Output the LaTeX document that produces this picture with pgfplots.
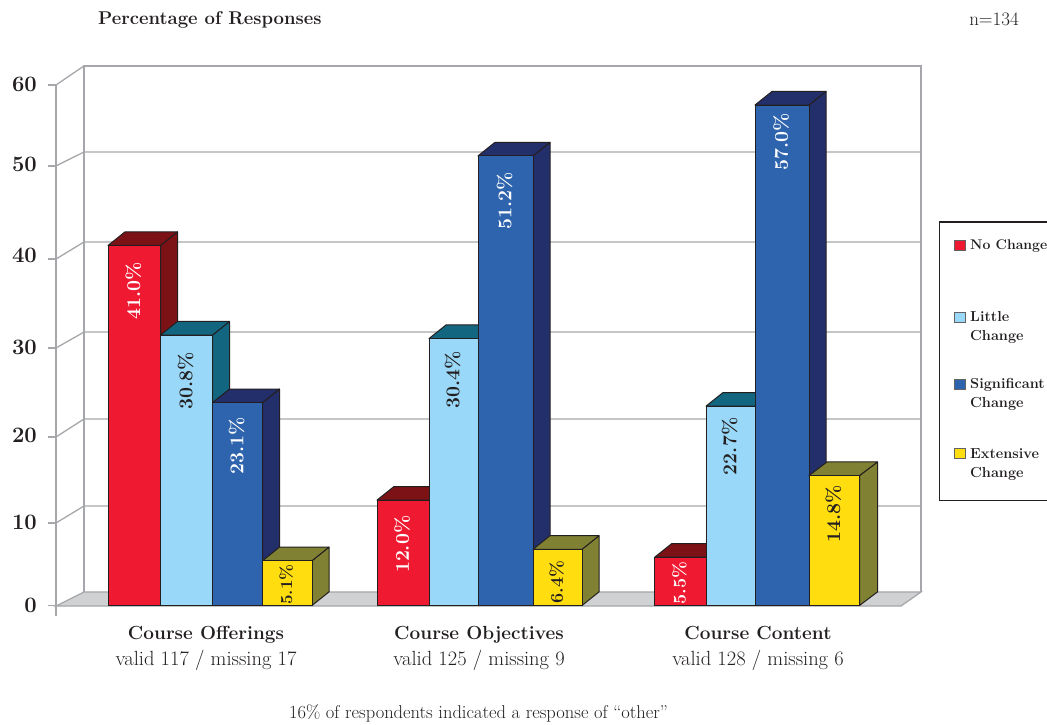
\documentclass[border=0pt]{standalone}
\usepackage{fontspec}
\usepackage{pgfplots}
\pgfplotsset{compat=1.18}

\definecolor{ink}{HTML}{231F20}
\definecolor{wall}{HTML}{A5A7AA}
\definecolor{floorgray}{HTML}{CFD1D3}
\definecolor{redF}{HTML}{EF1A32}
\definecolor{redS}{HTML}{7C1216}
\definecolor{skyF}{HTML}{99D8F8}
\definecolor{skyS}{HTML}{136680}
\definecolor{blueF}{HTML}{2E63AD}
\definecolor{blueS}{HTML}{232F6B}
\definecolor{yelF}{HTML}{FFDD0F}
\definecolor{yelS}{HTML}{808132}

\newcommand{\fs}[1]{\fontsize{#1}{#1}\selectfont}
% fixed height and depth for the first line of a category label
\newcommand{\catstrut}{\rule[-6pt]{0pt}{20pt}}

% One bar: left, right, value, front colour, dark colour, label colour, label drop (pt), depth in x, label size
\newcommand{\solidbar}[9]{%
  \pgfmathsetmacro{\xc}{(#1+#2)/2}%
  \pgfmathsetmacro{\xw}{#2-#1}%
  \pgfmathsetmacro{\xd}{#2+#8}%
  \pgfmathsetmacro{\xe}{#1+#8}%
  \pgfmathsetmacro{\yt}{#3+1.55}%
  \edef\faces{%
    \noexpand\addplot[fill=#5,draw=ink,line width=1pt,line join=round] coordinates {(#2,0) (\xd,1.55) (\xd,\yt) (#2,#3)} --cycle;%
    \noexpand\addplot[fill=#5,draw=ink,line width=1pt,line join=round] coordinates {(#1,#3) (\xe,\yt) (\xd,\yt) (#2,#3)} --cycle;%
    \noexpand\addplot[ybar,bar width=\xw,bar shift=0pt,fill=#4,draw=ink,line width=1pt,
      nodes near coords={#3\noexpand\%},
      nodes near coords style={font=\noexpand\bfseries\noexpand\fs{#9},text=#6,yshift=-#7pt,xshift=-1pt,rotate=90,anchor=east,inner sep=0pt}]
      coordinates {(\xc,#3)};%
  }%
  \faces
}

\begin{document}
\begin{tikzpicture}[x=1pt,y=1pt]
\useasboundingbox (0,0) rectangle (1047,725);
\begin{axis}[
  at={(56pt,109pt)},anchor=south west,
  scale only axis,width=865pt,height=531pt,
  xmin=56,xmax=921,ymin=-1.196,ymax=59.28,
  clip=false,
  axis x line*=bottom,axis y line*=left,
  x axis line style={draw=none},
  y axis line style={-,draw=wall,line width=1.3pt},
  ytick={59.28,50.06,39.46,29.33,19.19,9.40,0},
  yticklabels={\raisebox{1pt}{60},\raisebox{4pt}{50},\raisebox{7pt}{40},\raisebox{1pt}{30},\raisebox{3pt}{20},\raisebox{2pt}{10},\raisebox{1pt}{0}},
  ytick style={draw=wall,line width=1.3pt},
  major tick length=8pt,
  tick align=outside,
  yticklabel style={font=\bfseries\fs{22},text=ink,inner sep=0pt,xshift=-11pt},
  xtick={206,479,758},
  xticklabels={{\catstrut\bfseries\fs{19}Course Offerings\\[4pt]\mdseries\fs{20.5}valid 117 / missing 17},
               {\catstrut\bfseries\fs{19}Course Objectives\\[4pt]\mdseries\fs{20.5}valid 125 / missing 9},
               {\catstrut\bfseries\fs{19}Course Content\\[4pt]\mdseries\fs{20.5}valid 128 / missing 6}},
  xtick style={draw=none},
  xticklabel style={align=center,text=ink,yshift=2pt},
  no markers,
]
% floor and back wall
\addplot[fill=floorgray,draw=wall,line width=1.3pt] coordinates {(56,-0.06) (84,1.54) (921,1.54) (901,-0.06)} --cycle;
\addplot[wall,line width=1.3pt] coordinates {(84,1.54) (84,61.45) (921,61.45) (921,1.54)};
% wall grid lines with their slanted returns to the front ticks
\addplot[wall,line width=1.3pt] coordinates {(56,59.28) (84,61.45)};
\addplot[wall,line width=1.3pt] coordinates {(56,50.06) (84,51.65) (921,51.65)};
\addplot[wall,line width=1.3pt] coordinates {(56,39.46) (84,41.40) (921,41.40)};
\addplot[wall,line width=1.3pt] coordinates {(56,29.33) (84,31.14) (921,31.14)};
\addplot[wall,line width=1.3pt] coordinates {(56,19.19) (84,21.24) (921,21.24)};
\addplot[wall,line width=1.3pt] coordinates {(56,9.40) (84,11.33) (921,11.33)};
% Course Offerings
\solidbar{108}{160.5}{41.0}{redF}{redS}{white}{16}{17}{19.5}
\solidbar{160.5}{212.5}{30.8}{skyF}{skyS}{ink}{17}{17}{19.5}
\solidbar{212.5}{262.5}{23.1}{blueF}{blueS}{white}{14}{17}{19.5}
\solidbar{262.5}{312}{5.1}{yelF}{yelS}{ink}{3}{17}{17}
% Course Objectives
\solidbar{377}{429}{12.0}{redF}{redS}{white}{15}{17}{19.5}
\solidbar{429}{478}{30.4}{skyF}{skyS}{ink}{12}{17}{19.5}
\solidbar{478}{533}{51.2}{blueF}{blueS}{white}{16}{17}{19.5}
\solidbar{533}{582}{6.4}{yelF}{yelS}{ink}{11}{17}{18}
% Course Content
\solidbar{654.7}{706}{5.5}{redF}{redS}{white}{4}{17}{18}
\solidbar{706}{755}{22.7}{skyF}{skyS}{ink}{11}{17}{19.5}
\solidbar{755}{809}{57.0}{blueF}{blueS}{white}{8}{17}{19.5}
\solidbar{809}{859.5}{14.8}{yelF}{yelS}{ink}{9}{18}{19.5}
\end{axis}

% headings
\node[anchor=west,inner sep=0pt,text=ink,font=\bfseries\fs{18.5}] at (98,705) {Percentage of Responses};
\node[anchor=east,inner sep=0pt,text=ink,font=\fs{19}] at (1019,706) {n=134};
\node[anchor=center,inner sep=0pt,text=ink,font=\fs{18.5}] at (478.5,11.5) {16\% of respondents indicated a response of “other”};

% legend panel
\draw[ink,line width=1.1pt] (1060,503) -- (939.5,503) -- (939.5,224.5) -- (1060,224.5);
\foreach \yy/\cc in {479/redF,407/skyF,340/blueF,271/yelF}
  \draw[fill=\cc,draw=ink!70,line width=1pt] (954,\yy-5) rectangle (965,\yy+5);
\node[anchor=west,inner sep=0pt,text=ink,font=\bfseries\fs{14}] at (970,479) {No Change};
\node[anchor=west,inner sep=0pt,text=ink,font=\bfseries\fs{14.5},align=left] at (970,397.5) {Little\\[5pt]Change};
\node[anchor=west,inner sep=0pt,text=ink,font=\bfseries\fs{14.5},align=left] at (970,330.5) {Significant\\[5pt]Change};
\node[anchor=west,inner sep=0pt,text=ink,font=\bfseries\fs{14.5},align=left] at (970,260.5) {Extensive\\[5pt]Change};
\end{tikzpicture}
\end{document}
